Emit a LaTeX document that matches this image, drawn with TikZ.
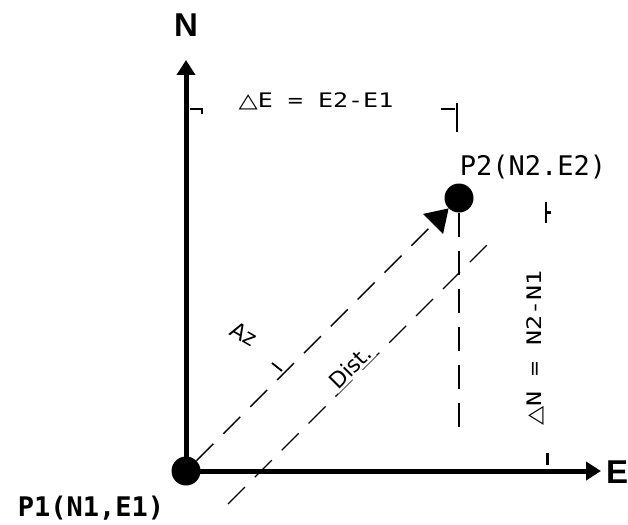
\documentclass[tikz,border=0pt]{standalone}
\usepackage{fontspec}
\usepackage{graphicx}
\usetikzlibrary{arrows.meta}
\newfontfamily\mymono{DejaVu Sans Mono}
\newfontfamily\dvsans{DejaVu Sans}
\newfontfamily\libsans{Liberation Sans}
\newcommand\dimtext[1]{\scalebox{1.25}[1]{#1}}
\begin{document}
\begin{tikzpicture}[x=1pt,y=-1pt,
  axis/.style={line width=5pt,-{Triangle[length=15pt,width=18pt]}},
  dot/.style={circle,fill=black,inner sep=0pt,minimum size=29pt},
  dimline/.style={line width=1.4pt,dash pattern=on 24pt off 14pt},
  tickmark/.style={line width=1.8pt},
  axlabel/.style={font=\libsans\bfseries\fontsize{33}{36}\selectfont,inner sep=0pt},
  ptlabel/.style={font=\mymono\fontsize{27}{30}\selectfont,inner sep=0pt},
  dimlabel/.style={font=\mymono\fontsize{20}{23}\selectfont,inner sep=1pt},
  smalllabel/.style={font=\dvsans\fontsize{22}{24}\selectfont,inner sep=0pt}]
\useasboundingbox (0,0) rectangle (628,524);
\fill[white] (0,0) rectangle (628,524);

% points
\node[dot] (P1) at (186,471) {};
\node[dot] (P2) at (459,198) {};

% axes
\coordinate (Ntip) at (186,60);
\coordinate (Etip) at (601,471);
\draw[axis] (P1.center) -- (Ntip);
\draw[axis] (P1.center) -- (Etip);
\node[axlabel] (Nl) at (186,25) {N};
\node[axlabel,anchor=west] (El) at (606,472) {E};

% point labels
\node[ptlabel,font=\mymono\bfseries\fontsize{27}{30}\selectfont] (P1l) at (91,508) {P1(N1,E1)};
\node[ptlabel] (P2l) at (533,167) {P2(N2.E2)};

% line P1 -> P2
\draw[dimline,-{Triangle[length=22pt,width=28pt]}] (P1) -- (P2);
\node[smalllabel,rotate=-30] (Az) at (244,334) {Az};
\coordinate (Az1) at (272,363);
\coordinate (Az2) at (282,371);
\draw[tickmark] (Az1) -- (Az2);

% distance dimension line
\coordinate (B1) at (228,504);
\coordinate (B2) at (491,241);
\draw[dimline,line width=1.2pt] (B1) -- (B2);
\node[smalllabel,rotate=45,fill=white,inner sep=2pt] (Dist) at (350,367) {Dist.};

% vertical projection of P2
\coordinate (V1) at (459,432);
\draw[dimline] (P2) -- (V1);

% Delta E dimension
\coordinate (E1a) at (190,109);
\coordinate (E1b) at (202,109);
\coordinate (E1c) at (202,114);
\draw[tickmark] (E1a) -- (E1b) -- (E1c);
\coordinate (E2a) at (441,109);
\coordinate (E2b) at (455,109);
\draw[tickmark] (E2a) -- (E2b);
\coordinate (E2c) at (457,103);
\coordinate (E2d) at (457,132);
\draw[tickmark] (E2c) -- (E2d);
\node[dimlabel] (dE) at (316,101) {\dimtext{{\dvsans △}E = E2-E1}};

% Delta N dimension
\coordinate (N1a) at (546,202);
\coordinate (N1b) at (546,223);
\draw[tickmark] (N1a) -- (N1b);
\coordinate (N1c) at (546,212);
\coordinate (N1d) at (551,212);
\draw[tickmark,line width=3pt] (N1c) -- (N1d);
\coordinate (N2a) at (547,453);
\coordinate (N2b) at (547,465);
\draw[tickmark,line width=3pt] (N2a) -- (N2b);
\node[dimlabel,rotate=90] (dN) at (535,348) {\dimtext{{\dvsans △}N = N2-N1}};
\end{tikzpicture}
\end{document}
